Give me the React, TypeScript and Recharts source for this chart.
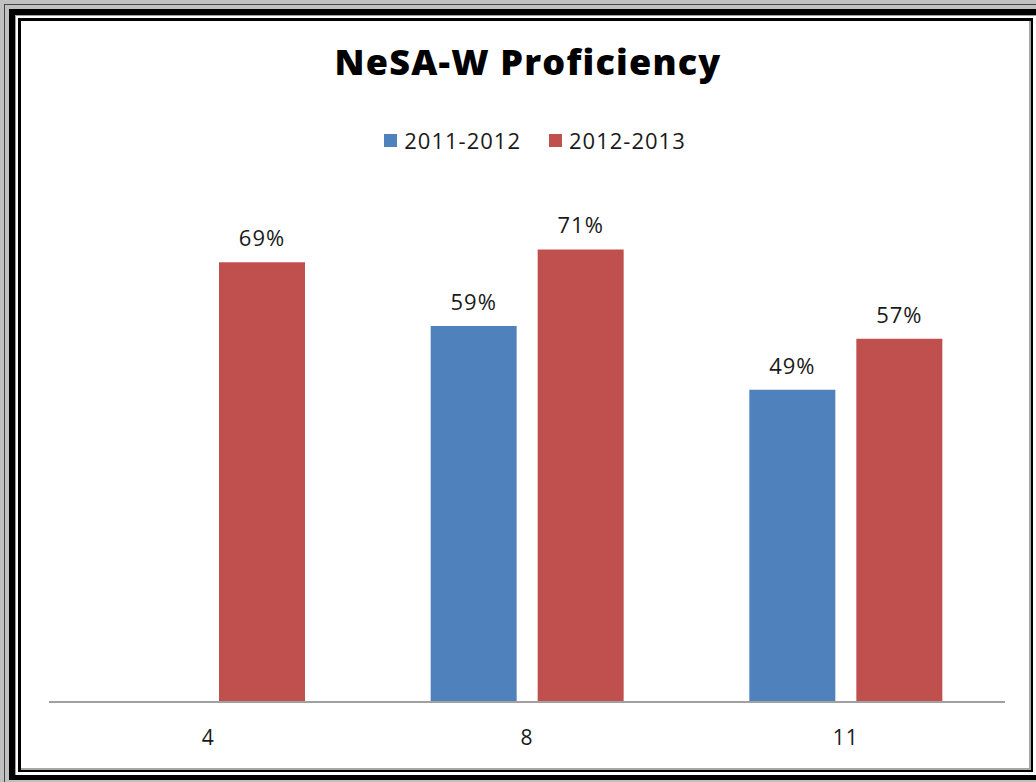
import React from 'react';
import { BarChart, Bar, XAxis, YAxis, Legend, LabelList } from 'recharts';

const grades = ['4', '8', '11'];
const series2011 = [null, 59, 49];
const series2012 = [69, 71, 57];
const seriesNames = ['2011-2012', '2012-2013'];
const seriesColors = ['#4F81BD', '#C0504D'];
const yTicks = [0, 10, 20, 30, 40, 50, 60, 70, 80];

const data = grades.map((g, i) => ({ grade: g, a: series2011[i], b: series2012[i] }));

const FONT = '"Open Sans", "DejaVu Sans", sans-serif';

const LegendContent = () => (
  <div
    style={{
      display: 'flex',
      justifyContent: 'center',
      alignItems: 'center',
      gap: 28,
      marginLeft: 16,
      fontFamily: FONT,
      fontSize: 22,
      letterSpacing: 1,
      color: '#1a1a1a',
      lineHeight: '30px',
    }}
  >
    {seriesNames.map((n, i) => (
      <span key={n} style={{ display: 'inline-flex', alignItems: 'center' }}>
        <span
          style={{
            display: 'inline-block',
            width: 13,
            height: 13,
            background: seriesColors[i],
            marginRight: 7,
          }}
        />
        {n}
      </span>
    ))}
  </div>
);

const fmt = (v: any) => (v === null || v === undefined ? '' : `${v}%`);

export default function App() {
  return (
    <div
      style={{
        position: 'fixed',
        left: 0,
        top: 0,
        width: 1036,
        height: 782,
        background: '#c0c0c0',
        overflow: 'hidden',
      }}
    >
      <div
        style={{
          position: 'absolute',
          left: 4,
          top: 4,
          width: 1050,
          height: 778,
          borderTop: '1px solid #444',
          borderLeft: '1px solid #444',
          boxSizing: 'border-box',
        }}
      />
      <div
        style={{
          position: 'absolute',
          left: 9,
          top: 9,
          width: 1040,
          height: 771,
          borderTop: '6px solid #000',
          borderLeft: '6px solid #000',
          borderBottom: '5px solid #000',
          boxSizing: 'border-box',
          background: '#fff',
          boxShadow: 'inset 1px 1px 0 #a0a0a0',
        }}
      />
      <div
        style={{
          position: 'absolute',
          left: 18,
          top: 18,
          width: 1015,
          height: 754,
          border: '3px solid #000',
          borderRight: '2px solid #000',
          borderBottom: '2px solid #000',
          boxSizing: 'border-box',
          background: '#fff',
          boxShadow: 'inset -2px -2px 0 #a6a6a6',
        }}
      />
      <svg
        width={1036}
        height={100}
        style={{ position: 'absolute', left: 0, top: 0 }}
      >
        <text
          x={528}
          y={75}
          textAnchor="middle"
          fontFamily={FONT}
          fontWeight={800}
          fontSize={36}
          letterSpacing={1.2}
          fill="#000"
        >
          NeSA-W Proficiency
        </text>
      </svg>
      <div style={{ position: 'absolute', left: 0, top: 0 }}>
        <BarChart
          width={1036}
          height={782}
          data={data}
          margin={{ top: 192, right: 31, bottom: 50, left: 49 }}
          barSize={86}
          barGap={21}
        >
          <XAxis
            dataKey="grade"
            axisLine={{ stroke: '#a0a0a0', strokeWidth: 2 }}
            tickLine={false}
            tickSize={6}
            tickMargin={22}
            height={30}
            tick={{ fontFamily: FONT, fontSize: 21, fill: '#1a1a1a', letterSpacing: 1 }}
          />
          <YAxis hide domain={[0, 80]} ticks={yTicks} />
          <Legend
            verticalAlign="middle"
            layout="horizontal"
            align="center"
            wrapperStyle={{ top: 125 }}
            content={<LegendContent />}
          />
          <Bar dataKey="a" name={seriesNames[0]} fill={seriesColors[0]} isAnimationActive={false}>
            <LabelList
              dataKey="a"
              position="top"
              offset={16}
              formatter={fmt}
              style={{ fontFamily: FONT, fontSize: 22, fill: '#1a1a1a', letterSpacing: 1 }}
            />
          </Bar>
          <Bar dataKey="b" name={seriesNames[1]} fill={seriesColors[1]} isAnimationActive={false}>
            <LabelList
              dataKey="b"
              position="top"
              offset={16}
              formatter={fmt}
              style={{ fontFamily: FONT, fontSize: 22, fill: '#1a1a1a', letterSpacing: 1 }}
            />
          </Bar>
        </BarChart>
      </div>
    </div>
  );
}
